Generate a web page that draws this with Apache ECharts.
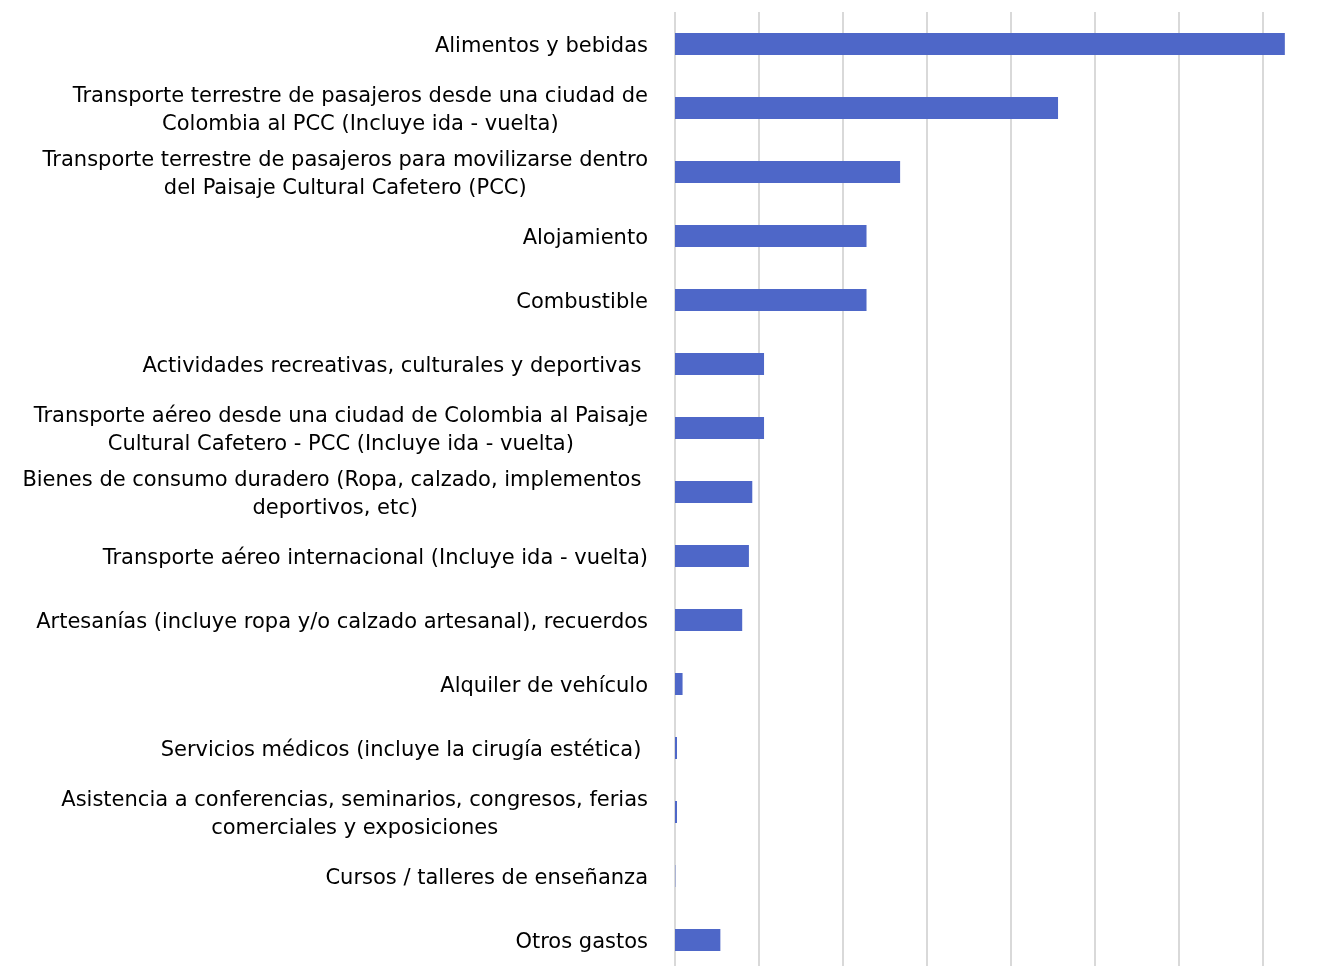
<!DOCTYPE html>
<html>
<head>
<meta charset="utf-8">
<script src="https://cdn.jsdelivr.net/npm/echarts@6/dist/echarts.min.js"></script>
<style>
html,body{margin:0;padding:0;background:#fff;}
#chart{width:1332px;height:966px;}
</style>
</head>
<body>
<div id="chart"></div>
<script>
const categories = [
  "Alimentos y bebidas",
  "Transporte terrestre de pasajeros desde una ciudad de\nColombia al PCC (Incluye ida - vuelta)",
  "Transporte terrestre de pasajeros para movilizarse dentro\ndel Paisaje Cultural Cafetero (PCC)",
  "Alojamiento",
  "Combustible",
  "Actividades recreativas, culturales y deportivas ",
  "Transporte aéreo desde una ciudad de Colombia al Paisaje\nCultural Cafetero - PCC (Incluye ida - vuelta)",
  "Bienes de consumo duradero (Ropa, calzado, implementos \ndeportivos, etc)",
  "Transporte aéreo internacional (Incluye ida - vuelta)",
  "Artesanías (incluye ropa y/o calzado artesanal), recuerdos",
  "Alquiler de vehículo",
  "Servicios médicos (incluye la cirugía estética) ",
  "Asistencia a conferencias, seminarios, congresos, ferias\ncomerciales y exposiciones",
  "Cursos / talleres de enseñanza",
  "Otros gastos"
];
const values = [36.3, 22.8, 13.4, 11.4, 11.4, 5.3, 5.3, 4.6, 4.4, 4.0, 0.45, 0.12, 0.12, 0.02, 2.7];
const axisMin = 0;
const axisMax = 40;
const axisInterval = 5;

const chart = echarts.init(document.getElementById('chart'), null, {renderer: 'canvas'});
chart.setOption({
  animation: false,
  backgroundColor: '#ffffff',
  grid: {left: 675, top: 12, width: 672, height: 960, containLabel: false, outerBoundsMode: 'none'},
  xAxis: {
    type: 'value', min: axisMin, max: axisMax, interval: axisInterval,
    axisLine: {show: false}, axisTick: {show: false}, axisLabel: {show: false},
    splitLine: {show: true, lineStyle: {color: '#d9d9d9', width: 2}}
  },
  yAxis: {
    type: 'category', data: categories, inverse: true,
    axisLine: {show: false}, axisTick: {show: false},
    axisLabel: {
      margin: 27, align: 'right', color: '#000',
      fontFamily: 'DejaVu Sans', fontSize: 21, lineHeight: 28,
      padding: [5, 0, 0, 0],
      formatter: function (v) {
        return v.split('\n').map(function (l) { return '{c|' + l + '}'; }).join('\n');
      },
      rich: {c: {align: 'center', color: '#000', fontFamily: 'DejaVu Sans', fontSize: 21, lineHeight: 28}}
    }
  },
  series: [{
    type: 'bar', data: values, barWidth: 22,
    itemStyle: {color: '#4E67C8'}
  }]
});
</script>
</body>
</html>
